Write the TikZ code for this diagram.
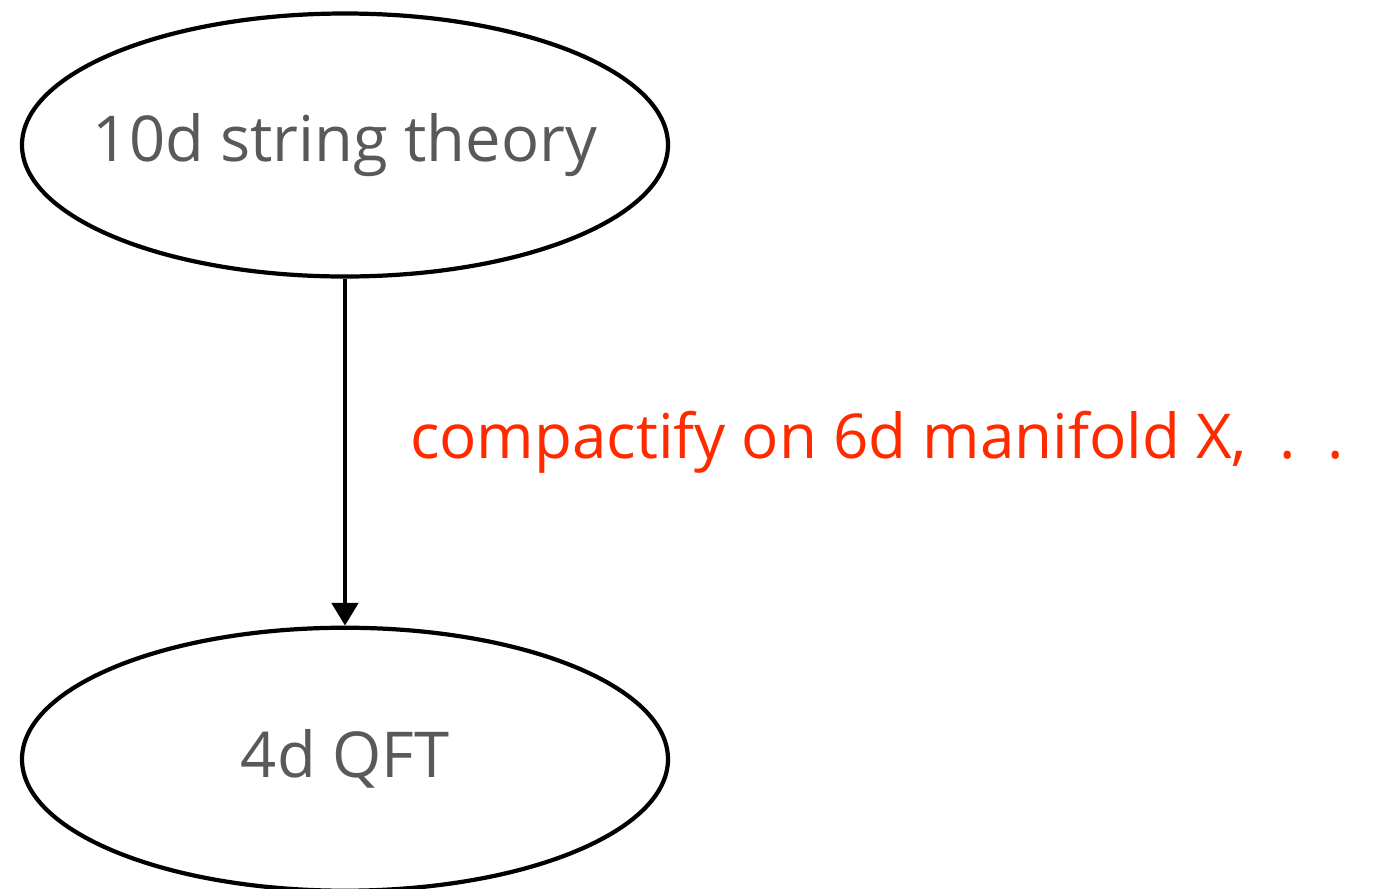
\documentclass[tikz,border=0pt]{standalone}
\usepackage{fontspec}
\setmainfont{Open Sans}
\usetikzlibrary{arrows.meta,positioning,shapes.geometric}

\definecolor{textgray}{HTML}{595959}
\definecolor{labelred}{HTML}{FF2A00}

\begin{document}
\begin{tikzpicture}[
  theory/.style={draw, ellipse, line width=1.2pt, minimum width=6.46cm, minimum height=2.63cm,
    inner xsep=-0.5cm, inner ysep=0pt, text=textgray, font=\fontsize{18}{22}\selectfont},
  arrow/.style={-{Triangle[length=6.5pt, width=7.5pt]}, line width=1.2pt},
]
  \useasboundingbox (0,0) rectangle (13.73,-8.88);

  \node[theory] (string) at (3.45,-1.45) {10d string theory};
  \node[theory, below=3.47cm of string] (qft) {4d QFT};

  \draw[arrow] (string) -- node[right, xshift=0.63cm, yshift=0.1cm, inner sep=0pt, text=labelred,
    font=\fontsize{17.6}{22}\selectfont] {compactify on 6d manifold X, \ .\ \ .\ \ .} (qft);
\end{tikzpicture}
\end{document}
